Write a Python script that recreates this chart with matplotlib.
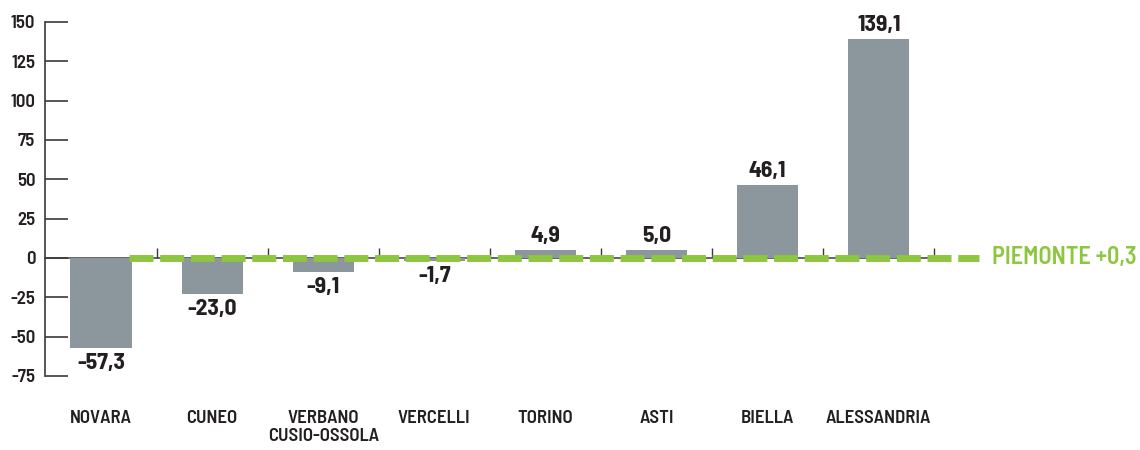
import matplotlib
matplotlib.use("Agg")
import matplotlib.pyplot as plt
import matplotlib.transforms as mtransforms

categories = ["NOVARA", "CUNEO", "VERBANO\nCUSIO-OSSOLA", "VERCELLI", "TORINO", "ASTI", "BIELLA", "ALESSANDRIA"]
values = [-57.3, -23.0, -9.1, -1.7, 4.9, 5.0, 46.1, 139.1]
region_label = "PIEMONTE"
region_value = 0.3
yticks = [-75, -50, -25, 0, 25, 50, 75, 100, 125, 150]

plt.rcParams['font.family'] = ['Barlow Semi Condensed', 'DejaVu Sans']

bar_color = "#8b969d"
green = "#8dc63f"
text_color = "#231f20"
axis_color = "#3a3a3a"

fig = plt.figure(figsize=(11.4, 4.5), dpi=100)
ax = fig.add_axes([45/1140, 1-376/450, (1000-45)/1140, (376-22)/450])
x0 = (45-101)/111.1
ax.set_xlim(x0, (1000-101)/111.1)
ax.set_ylim(-75, 150)

n = len(categories)
x = list(range(n))
ax.bar(x, values, width=0.55, color=bar_color, zorder=2)
ax.plot([(129-101)/111.1, (979-101)/111.1], [region_value, region_value], color=green, lw=5,
        dashes=(3.45, 0.97), solid_capstyle='butt', dash_capstyle='butt', zorder=3, clip_on=False)
ax.text((992-101)/111.1, region_value, f"{region_label} +{str(region_value).replace('.', ',')}",
        color=green, fontsize=17.5, fontweight=600, va='center', ha='left', clip_on=False)

off_up = mtransforms.ScaledTranslation(0, 4/100, fig.dpi_scale_trans)
off_dn = mtransforms.ScaledTranslation(0, -5/100, fig.dpi_scale_trans)
for xi, v in zip(x, values):
    lab = f"{v:.1f}".replace('.', ',')
    if v >= 0:
        ax.text(xi, v, lab, ha='center', va='bottom', fontsize=17, fontweight=700, color=text_color,
                transform=ax.transData + off_up)
    else:
        ax.text(xi, v, lab, ha='center', va='top', fontsize=17, fontweight=700, color=text_color,
                transform=ax.transData + off_dn)

for s in ['top', 'right']:
    ax.spines[s].set_visible(False)
ax.spines['left'].set_color(axis_color)
ax.spines['left'].set_linewidth(1.2)
ax.spines['bottom'].set_position(('data', 0))
ax.spines['bottom'].set_bounds(x0, n - 0.5)
ax.spines['bottom'].set_color(axis_color)
ax.spines['bottom'].set_linewidth(1.1)
ax.spines['bottom'].set_zorder(1)
ax.set_yticks(yticks)
ax.set_yticklabels([str(t) for t in yticks])
ax.tick_params(axis='y', direction='in', length=16.5, width=1.2, color=axis_color, pad=7,
               labelsize=13.5, labelcolor=text_color)
for lbl in ax.get_yticklabels():
    lbl.set_fontweight(600)
ax.set_xticks([i + 0.5 for i in range(n)])
ax.tick_params(axis='x', direction='in', length=7, width=1.0, color=axis_color, labelbottom=False)

off_cat = mtransforms.ScaledTranslation(0, -34/100, fig.dpi_scale_trans)
for xi, c in zip(x, categories):
    ax.text(xi, -75, c, ha='center', va='top', fontsize=13.5, fontweight=600,
            color=text_color, linespacing=1.1, transform=ax.transData + off_cat)

fig.savefig("out.png", dpi=100)
